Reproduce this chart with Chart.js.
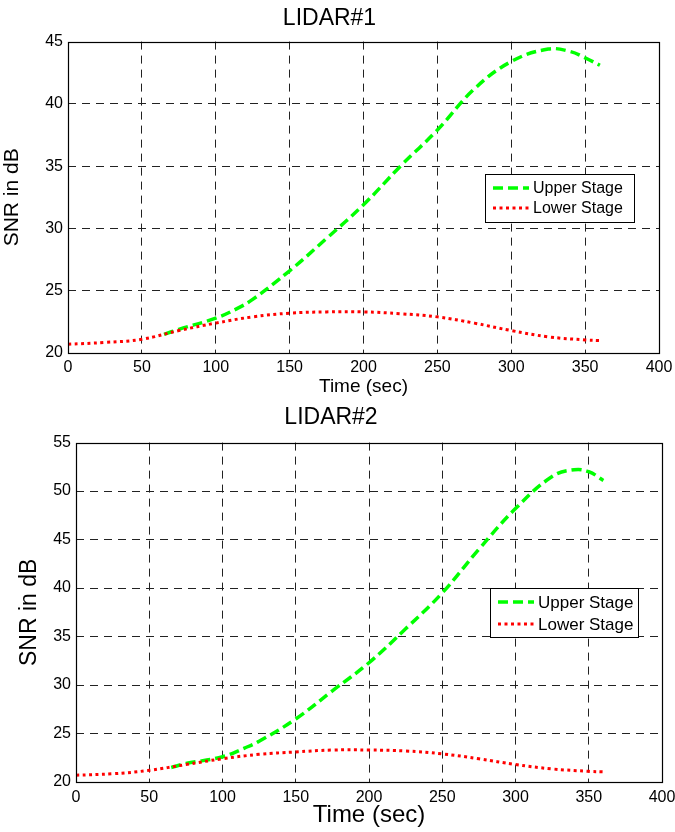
<!DOCTYPE html>
<html lang="en">
<head>
<meta charset="UTF-8">
<title>LIDAR SNR</title>
<script src="https://cdn.jsdelivr.net/npm/chart.js@4.4.0/dist/chart.umd.min.js"></script>
<style>
    html, body { margin: 0; padding: 0; background: #fff; }
    .chart-box { position: absolute; left: 0; width: 675px; }
    #box1 { top: 0; height: 400px; }
    #box2 { top: 400px; height: 432px; }
</style>
</head>
<body>
<div class="chart-box" id="box1"><canvas id="lidar1"></canvas></div>
<div class="chart-box" id="box2"><canvas id="lidar2"></canvas></div>

<script>
// time axis (sec) for each curve
const upperTime = [65, 75, 100, 115, 125, 150, 175, 200, 225, 250, 275, 300, 325, 340, 350, 360];
const lowerTime = [0, 25, 50, 75, 100, 125, 150, 175, 200, 225, 250, 275, 300, 325, 350, 360];

// LIDAR#1 SNR (dB)
const lidar1Upper = [21.5, 21.9, 22.8, 23.6, 24.3, 26.6, 29.2, 31.9, 35.0, 37.9, 41.2, 43.4, 44.4, 44.2, 43.7, 43.1];
const lidar1Lower = [20.7, 20.85, 21.1, 21.8, 22.4, 22.9, 23.2, 23.3, 23.3, 23.15, 22.9, 22.4, 21.8, 21.3, 21.05, 21.0];

// LIDAR#2 SNR (dB)
const lidar2Upper = [21.5, 21.9, 22.6, 23.5, 24.2, 26.5, 29.4, 32.3, 35.8, 39.5, 44.0, 48.2, 51.5, 52.2, 52.0, 51.1];
const lidar2Lower = [20.7, 20.85, 21.2, 21.8, 22.4, 22.85, 23.1, 23.3, 23.3, 23.2, 22.9, 22.4, 21.8, 21.35, 21.1, 21.05];

const seriesNames = ['Upper Stage', 'Lower Stage'];

Chart.defaults.font.family = "'Liberation Sans', Arial, Helvetica, sans-serif";
Chart.defaults.color = '#000';

function points(xs, ys) {
    return xs.map((x, i) => ({ x: x, y: ys[i] }));
}

// hide the grid lines that sit on the frame
function gridColor(c) {
    const n = c.scale.ticks.length;
    return (c.index === 0 || c.index === n - 1) ? 'rgba(0,0,0,0)' : '#222';
}

// frame around the axes + legend box inside the plot
const frameLegend = {
    id: 'frameLegend',
    afterDatasetsDraw(chart, args, opts) {
        const ctx = chart.ctx;
        const a = chart.chartArea;
        ctx.save();
        ctx.strokeStyle = '#000';
        ctx.lineWidth = 1.2;
        ctx.setLineDash([]);
        ctx.strokeRect(Math.round(a.left) + 0.5, Math.round(a.top) + 0.5,
            Math.round(a.right - a.left), Math.round(a.bottom - a.top));

        const b = opts.box;
        ctx.fillStyle = '#fff';
        ctx.fillRect(b.x, b.y, b.w, b.h);
        ctx.lineWidth = 1;
        ctx.strokeRect(b.x + 0.5, b.y + 0.5, b.w, b.h);
        chart.data.datasets.forEach((ds, i) => {
            const y = b.y + opts.rows[i];
            ctx.beginPath();
            ctx.strokeStyle = ds.borderColor;
            ctx.lineWidth = ds.borderWidth;
            ctx.setLineDash(ds.borderDash);
            ctx.moveTo(b.x + 8, y);
            ctx.lineTo(b.x + 44, y);
            ctx.stroke();
            ctx.setLineDash([]);
            ctx.fillStyle = '#000';
            ctx.font = opts.fontSize + "px 'Liberation Sans', Arial, sans-serif";
            ctx.textBaseline = 'middle';
            ctx.fillText(ds.label, b.x + 48, y + 1);
        });
        ctx.restore();
    }
};

function makeChart(id, title, upper, lower, yMax, cfg) {
    const ctx = document.getElementById(id).getContext('2d');
    return new Chart(ctx, {
        type: 'line',
        data: {
            datasets: [{
                label: seriesNames[0],
                data: points(upperTime, upper),
                borderColor: '#00ff00',
                borderWidth: 3.5,
                borderDash: [10, 5],
                pointRadius: 0,
                tension: 0.4,
                fill: false,
                order: 1
            }, {
                label: seriesNames[1],
                data: points(lowerTime, lower),
                borderColor: '#ff0000',
                borderWidth: 3,
                borderDash: [3, 3.5],
                pointRadius: 0,
                tension: 0.4,
                fill: false,
                order: 0
            }]
        },
        options: {
            responsive: true,
            maintainAspectRatio: false,
            animation: false,
            layout: { padding: { left: 0, right: cfg.padRight, top: 0, bottom: 0 } },
            plugins: {
                legend: { display: false },
                tooltip: { enabled: false },
                title: {
                    display: true,
                    text: title,
                    font: { size: 23, weight: 'normal' },
                    color: '#000',
                    padding: { top: cfg.titleTop, bottom: cfg.titleBottom }
                },
                frameLegend: cfg.legend
            },
            scales: {
                x: {
                    type: 'linear',
                    min: 0,
                    max: 400,
                    ticks: { stepSize: 50, padding: cfg.xTickPad, font: { size: 16 }, maxRotation: 0 },
                    grid: { color: gridColor, lineWidth: 1, drawTicks: false },
                    border: { display: false, dash: [8, 6] },
                    title: {
                        display: true,
                        text: 'Time (sec)',
                        font: { size: cfg.xTitleSize },
                        padding: { top: 0, bottom: cfg.xTitlePad }
                    },
                    afterFit: s => {
                        s.height = cfg.xHeight;
                        s.paddingLeft = 0;
                        s.paddingRight = 0;
                    }
                },
                y: {
                    min: 20,
                    max: yMax,
                    ticks: { stepSize: 5, padding: 5, font: { size: 16 } },
                    grid: { color: gridColor, lineWidth: 1, drawTicks: false },
                    border: { display: false, dash: [8, 6] },
                    title: {
                        display: true,
                        text: 'SNR in dB',
                        font: { size: cfg.yTitleSize },
                        padding: { top: cfg.yTitlePad, bottom: 0 }
                    },
                    afterFit: s => {
                        s.width = cfg.yWidth;
                        s.paddingTop = 0;
                        s.paddingBottom = 0;
                    }
                }
            }
        },
        plugins: [frameLegend]
    });
}

makeChart('lidar1', 'LIDAR#1', lidar1Upper, lidar1Lower, 45, {
    padRight: 16, titleTop: 5, titleBottom: 9,
    xTickPad: 5, xTitleSize: 19, xTitlePad: 2, xHeight: 47,
    yTitleSize: 21, yTitlePad: 0, yWidth: 68,
    legend: { box: { x: 485, y: 174, w: 149, h: 48 }, rows: [14, 34], fontSize: 16 }
});

makeChart('lidar2', 'LIDAR#2', lidar2Upper, lidar2Lower, 55, {
    padRight: 13, titleTop: 4, titleBottom: 11,
    xTickPad: 6, xTitleSize: 24, xTitlePad: 2, xHeight: 50,
    yTitleSize: 23, yTitlePad: 16, yWidth: 76,
    legend: { box: { x: 490, y: 188, w: 148, h: 49 }, rows: [14, 36], fontSize: 17 }
});
</script>
</body>
</html>
